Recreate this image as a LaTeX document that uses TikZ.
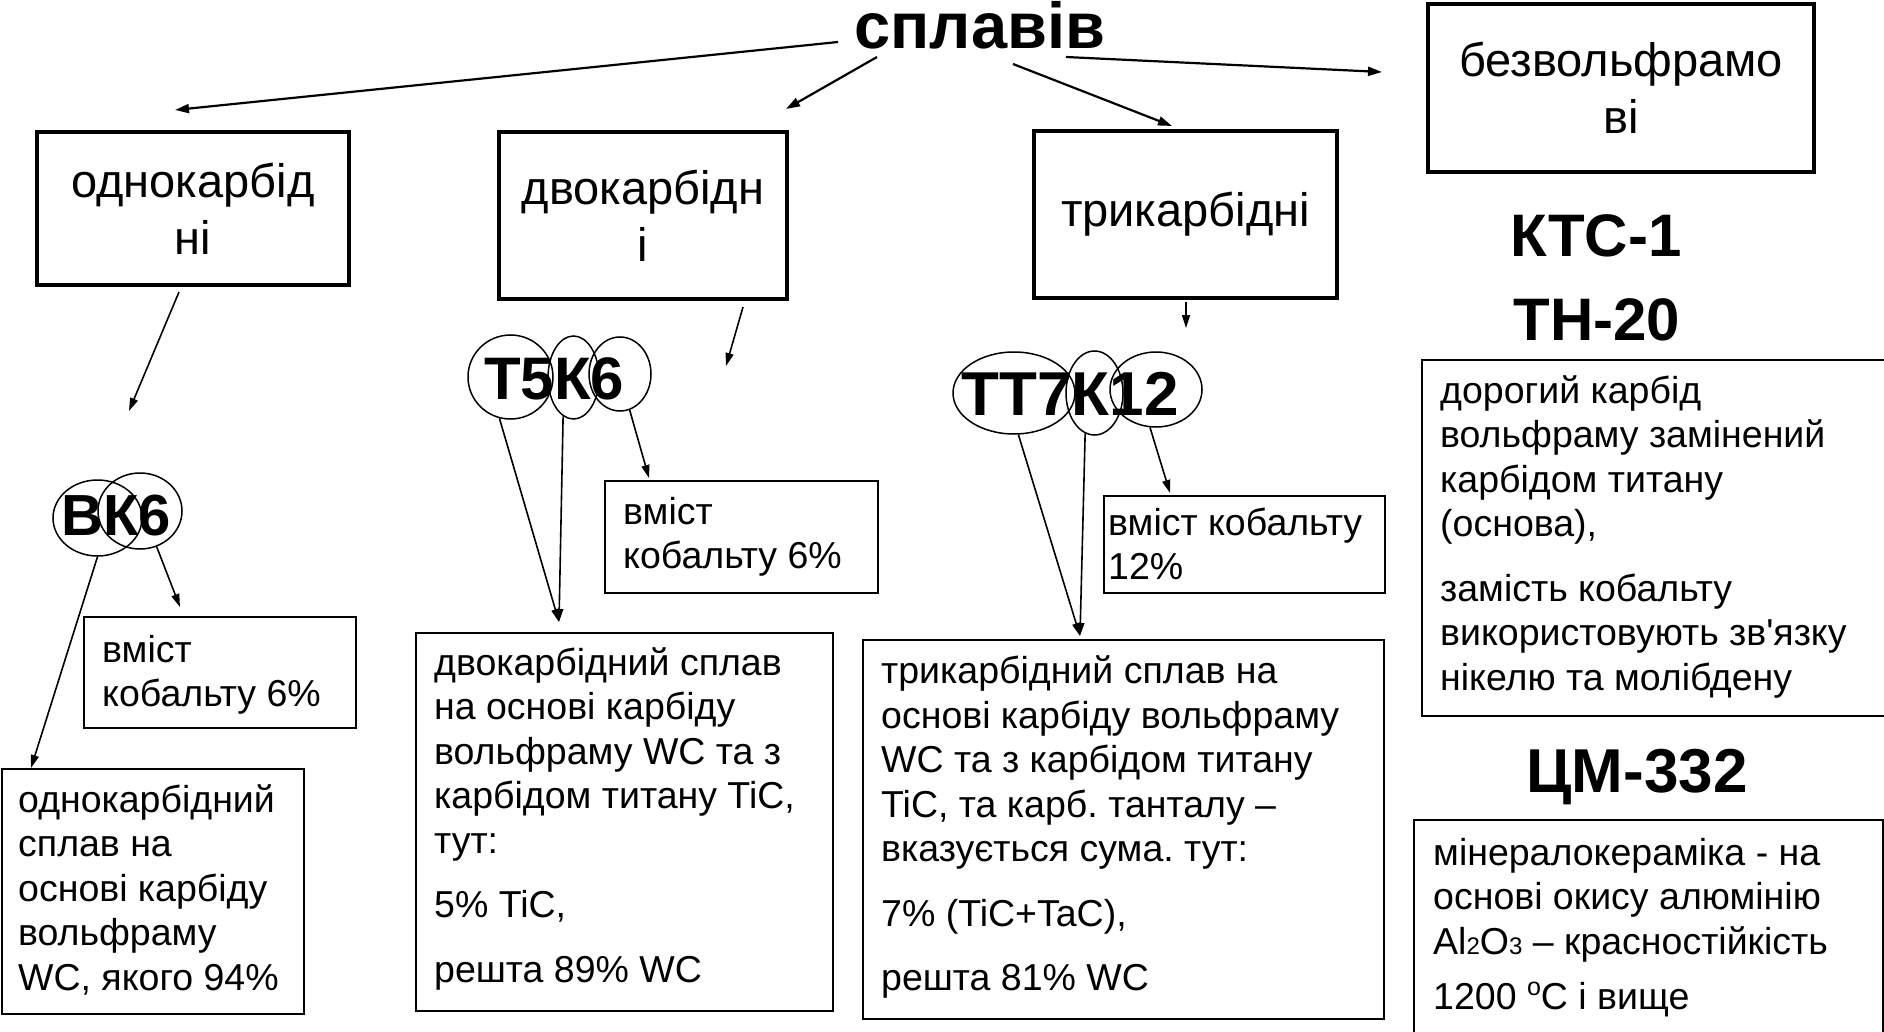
\documentclass[tikz,border=0pt]{standalone}
\usepackage{fontspec}
\setmainfont{Liberation Sans}
\usetikzlibrary{arrows.meta,shapes.geometric}
\newcommand{\mlines}[1]{\begin{tabular}[t]{@{}l@{}}#1\end{tabular}}
\newcommand{\smalldig}[1]{{\fontsize{24}{24}\selectfont #1}}
\newcommand{\degsign}{\raisebox{14pt}{\fontsize{25}{25}\selectfont o}}
\begin{document}
\frenchspacing
\begin{tikzpicture}[x=1pt,y=-1pt,
  topbox/.style={draw, line width=3.5pt, inner sep=0pt, align=center, font=\fontsize{47}{57}\selectfont},
  thinbox/.style={draw, line width=1.6pt, inner sep=0pt, anchor=north west},
  body/.style={anchor=base west, inner sep=0pt, font=\fontsize{37.5}{44.5}\selectfont\frenchspacing},
  big/.style={anchor=base, inner sep=0pt, font=\fontsize{60}{72}\selectfont\bfseries},
  ell/.style={draw, ellipse, line width=1.5pt, inner sep=0pt},
  arr/.style={line width=1.6pt, -{Triangle[length=13pt,width=8pt]}},
  tarr/.style={line width=2.2pt, -{Triangle[length=14pt,width=9pt]}}]
\useasboundingbox (0,0) rectangle (1884,1032);
\fill[white] (0,0) rectangle (1884,1032);

% title
\node[big, font=\fontsize{65}{78}\selectfont\bfseries] (title) at (980,49) {сплавів};

% top boxes
\node[topbox, minimum width=312pt, minimum height=153pt] (b1) at (193,208.5) {однокарбід\\ні};
\node[topbox, minimum width=288pt, minimum height=167pt] (b2) at (643,215.5) {двокарбідн\\і};
\node[topbox, minimum width=303pt, minimum height=167pt] (b3) at (1185.5,214.5) {трикарбідні};
\node[topbox, minimum width=386pt, minimum height=168pt] (b4) at (1621,88) {безвольфрамо\\ві};

% title arrows
\coordinate (s1) at (838,42);  \coordinate (t1) at (175,110);
\coordinate (s2) at (877,57);  \coordinate (t2) at (786,109);
\coordinate (s3) at (1013,64); \coordinate (t3) at (1172,126);
\coordinate (s4) at (1066,57); \coordinate (t4) at (1382,72);
\draw[tarr] (s1) -- (t1);
\draw[tarr] (s2) -- (t2);
\draw[tarr] (s3) -- (t3);
\draw[tarr] (s4) -- (t4);

% second level arrows
\coordinate (c1s) at (179,292);  \coordinate (c1t) at (129,411);
\coordinate (c2s) at (743,307);  \coordinate (c2t) at (726,366);
\coordinate (c3s) at (1186,302); \coordinate (c3t) at (1186,328);
\draw[arr] (c1s) -- (c1t);
\draw[arr] (c2s) -- (c2t);
\draw[arr] (c3s) -- (c3t);

% ---- BK6
\node[ell, minimum width=89pt, minimum height=76pt] (e1) at (97.5,518) {};
\node[ell, minimum width=84pt, minimum height=76pt] (e2) at (140,511) {};
\node[big, font=\fontsize{58}{70}\selectfont\bfseries] (vk6) at (116,535) {ВК6};
\node[thinbox, minimum width=272pt, minimum height=111pt] (v1) at (83,616) {};
\node[body] (v1t) at (102,662) {\mlines{вміст\\кобальту 6\%}};
\node[thinbox, minimum width=302pt, minimum height=245pt] (o1) at (1,768) {};
\node[body] (o1t) at (18,812) {\mlines{однокарбідний\\сплав на\\основі карбіду\\вольфраму\\WC, якого 94\%}};
\draw[arr] (e1.south) -- ([xshift=30pt]o1.north west);
\draw[arr] (e2.-65) -- ([xshift=97pt,yshift=9pt]v1.north west);

% ---- T5K6
\node[ell, minimum width=85pt, minimum height=84pt] (f1) at (510.5,377) {};
\node[ell, minimum width=51pt, minimum height=83pt] (f2) at (573.5,377.5) {};
\node[ell, minimum width=62pt, minimum height=74pt] (f3) at (620,374) {};
\node[big] (t5k6) at (554,399) {Т5К6};
\node[thinbox, minimum width=273pt, minimum height=112pt] (v2) at (604,480) {};
\node[body] (v2t) at (623,524) {\mlines{вміст\\кобальту 6\%}};
\node[thinbox, minimum width=417pt, minimum height=378pt] (d1) at (415,632) {};
\node[body] (d1t) at (434,675) {\mlines{двокарбідний сплав\\на основі карбіду\\вольфраму WC та з\\карбідом титану TiC,\\тут:\\[20pt]5\% TiC,\\[20pt]решта 89\% WC}};
\draw[arr] (f1.-105) -- ([xshift=144pt,yshift=10pt]d1.north west);
\draw[arr] (f2.-105) -- ([xshift=144pt,yshift=10pt]d1.north west);
\draw[arr] (f3.-75) -- ([xshift=45pt,yshift=2pt]v2.north west);

% ---- TT7K12
\node[ell, minimum width=122pt, minimum height=82pt] (g1) at (1014,393) {};
\node[ell, minimum width=57pt, minimum height=84pt] (g2) at (1094.5,393) {};
\node[ell, minimum width=92pt, minimum height=75pt] (g3) at (1156,389.5) {};
\node[big, font=\fontsize{62}{74}\selectfont\bfseries] (tt7k12) at (1070,415) {ТТ7К12};
\node[thinbox, minimum width=281pt, minimum height=97pt] (v3) at (1103,495) {};
\node[body] (v3t) at (1108,535) {\mlines{вміст кобальту\\12\%}};
\node[thinbox, minimum width=521pt, minimum height=379pt] (tr1) at (862,639) {};
\node[body] (tr1t) at (881,683.5) {\mlines{трикарбідний сплав на\\основі карбіду вольфраму\\WC та з карбідом титану\\TiC, та карб. танталу –\\вказується сума. тут:\\[20pt]7\% (TiC+TaC),\\[20pt]решта 81\% WC}};
\draw[arr] (g1.-84) -- ([xshift=218pt,yshift=3pt]tr1.north west);
\draw[arr] (g2.-103) -- ([xshift=218pt,yshift=3pt]tr1.north west);
\draw[arr] (g3.-99) -- ([xshift=67pt,yshift=2pt]v3.north west);

% ---- right column
\node[big] (ktc) at (1596,257) {КТС-1};
\node[big] (th20) at (1597,340) {ТН-20};
\node[thinbox, minimum width=470pt, minimum height=356pt] (dor) at (1421,359) {};
\node[body] (dort) at (1440,403) {\mlines{дорогий карбід\\вольфраму замінений\\карбідом титану\\(основа),\\[20pt]замість кобальту\\використовують зв\textquotesingle язку\\нікелю та молібдену}};
\node[big, font=\fontsize{62}{74}\selectfont\bfseries] (cm) at (1637,792) {ЦМ-332};
\node[thinbox, minimum width=469pt, minimum height=230pt] (min) at (1413,819) {};
\node[body] (mint) at (1433,865) {\mlines{мінералокераміка - на\\основі окису алюмінію\\Al\smalldig{2}O\smalldig{3} – красностійкість\\[11pt]1200 \degsign C і вище}};
\end{tikzpicture}
\end{document}
